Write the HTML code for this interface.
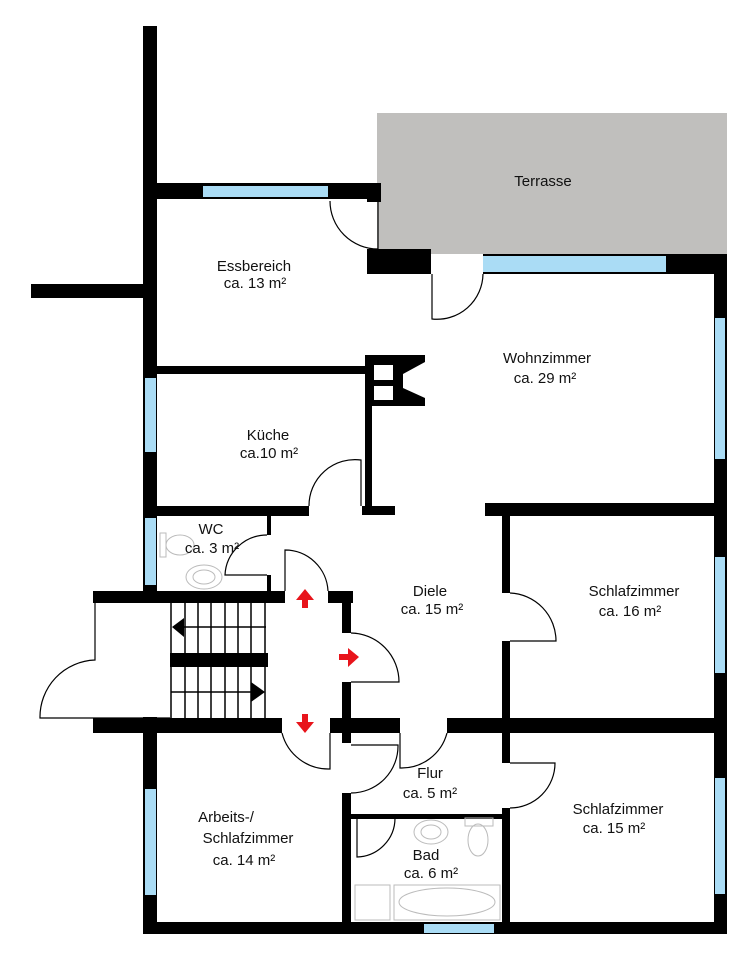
<!DOCTYPE html>
<html><head><meta charset="utf-8"><style>
html,body{margin:0;padding:0;background:#fff;}
svg{display:block;}
text{font-family:"Liberation Sans",sans-serif;font-size:15px;fill:#111;text-anchor:middle;}
</style></head><body>
<svg width="753" height="960" viewBox="0 0 753 960" xmlns="http://www.w3.org/2000/svg">
<rect x="0" y="0" width="753" height="960" fill="#fff"/>
<rect x="377" y="113" width="350" height="141" fill="#c0bfbd"/>
<text x="543" y="186">Terrasse</text>
<g fill="#000">
<rect x="143" y="26" width="14" height="577"/>
<rect x="143" y="717" width="14" height="217"/>
<rect x="31" y="284" width="112" height="14"/>
<rect x="157" y="183" width="224" height="16"/>
<rect x="367" y="199" width="14" height="3"/>
<rect x="367" y="249" width="64" height="25"/>
<rect x="483" y="254" width="244" height="20"/>
<rect x="714" y="254" width="13" height="680"/>
<rect x="157" y="366" width="210" height="8"/>
<path d="M365,355 H425 V362 L403,374 V388 L425,398 V406 H372 V506 H395 V515 H362 V506 H365 Z"/>
<rect x="157" y="506" width="152" height="10"/>
<rect x="485" y="503" width="242" height="13"/>
<rect x="502" y="516" width="8" height="77"/>
<rect x="502" y="641" width="8" height="92"/>
<rect x="502" y="733" width="8" height="30"/>
<rect x="502" y="808" width="8" height="126"/>
<rect x="93" y="718" width="189" height="15"/>
<rect x="330" y="718" width="70" height="15"/>
<rect x="447" y="718" width="280" height="15"/>
<rect x="93" y="591" width="192" height="12"/>
<rect x="328" y="591" width="25" height="12"/>
<rect x="342" y="603" width="9" height="30"/>
<rect x="342" y="682" width="9" height="61"/>
<rect x="342" y="793" width="9" height="130"/>
<rect x="267" y="516" width="4" height="19"/>
<rect x="267" y="575" width="4" height="16"/>
<rect x="351" y="814" width="151" height="5"/>
<rect x="143" y="922" width="584" height="12"/>
<rect x="170" y="653" width="98" height="14"/>
<polygon points="172,627 184,618 184,637"/>
<polygon points="265,692 251,682 251,702"/>
</g>
<rect x="374" y="365" width="19" height="15" fill="#fff"/>
<rect x="374" y="386" width="19" height="14" fill="#fff"/>
<g fill="#aadcf5">
<rect x="203" y="186" width="125" height="11"/>
<rect x="483" y="256" width="183" height="16"/>
<rect x="715" y="318" width="10" height="141"/>
<rect x="715" y="557" width="10" height="116"/>
<rect x="715" y="778" width="10" height="116"/>
<rect x="145" y="378" width="11" height="74"/>
<rect x="145" y="518" width="11" height="67"/>
<rect x="145" y="789" width="11" height="106"/>
<rect x="424" y="924" width="70" height="9"/>
</g>
<g fill="none" stroke="#000" stroke-width="1.2">
<path d="M378,201 V249 A48,48 0 0 1 330,201"/>
<path d="M432,274 V319 A46,46 0 0 0 483,274"/>
<path d="M361,506 V460 A46,46 0 0 0 309,506"/>
<path d="M510,641 H556 A48,48 0 0 0 510,593"/>
<path d="M267,575 H225 A42,42 0 0 1 267,535"/>
<path d="M285,591 V550 A43,43 0 0 1 328,591"/>
<path d="M351,682 H399 A49,49 0 0 0 351,633"/>
<path d="M330,733 V769 A48,48 0 0 1 282,733"/>
<path d="M400,733 V768 A47,47 0 0 0 447,733"/>
<path d="M351,745 H398 A47,47 0 0 1 351,793"/>
<path d="M510,763 H555 A45,45 0 0 1 510,808"/>
<path d="M357,818 V857 A39,39 0 0 0 395,818"/>
<path d="M95,603 V660 A57,57 0 0 0 40,718 H170"/>
</g>
<g stroke="#000" stroke-width="1.5">
<line x1="171" y1="603" x2="171" y2="718"/><line x1="185" y1="603" x2="185" y2="718"/>
<line x1="198" y1="603" x2="198" y2="718"/><line x1="211" y1="603" x2="211" y2="718"/>
<line x1="225" y1="603" x2="225" y2="718"/><line x1="238" y1="603" x2="238" y2="718"/>
<line x1="251" y1="603" x2="251" y2="718"/><line x1="265" y1="603" x2="265" y2="718"/>
<line x1="174" y1="627" x2="266" y2="627"/><line x1="171" y1="692" x2="260" y2="692"/>
</g>
<g fill="#e8141b">
<polygon points="305,589 296,600 302,600 302,608 308,608 308,600 314,600"/>
<polygon points="359,657 348,648 348,654 339,654 339,660 348,660 348,667"/>
<polygon points="305,733 296,722 302,722 302,714 308,714 308,722 314,722"/>
</g>
<g fill="none" stroke="#bbb" stroke-width="1">
<ellipse cx="180" cy="545" rx="14" ry="10"/><rect x="160" y="533" width="6" height="24"/>
<ellipse cx="204" cy="577" rx="18" ry="12"/><ellipse cx="204" cy="577" rx="11" ry="7"/>
<ellipse cx="431" cy="832" rx="17" ry="12"/><ellipse cx="431" cy="832" rx="10" ry="7"/>
<rect x="465" y="818" width="28" height="8"/><ellipse cx="478" cy="840" rx="10" ry="16"/>
<rect x="355" y="885" width="35" height="35"/>
<rect x="394" y="885" width="106" height="35"/><ellipse cx="447" cy="902" rx="48" ry="14"/>
</g>
<text x="254" y="271">Essbereich</text><text x="255" y="288">ca. 13 m²</text>
<text x="547" y="363">Wohnzimmer</text><text x="545" y="383">ca. 29 m²</text>
<text x="268" y="440">Küche</text><text x="269" y="458">ca.10 m²</text>
<text x="211" y="534">WC</text><text x="212" y="553">ca. 3 m²</text>
<text x="430" y="596">Diele</text><text x="432" y="614">ca. 15 m²</text>
<text x="634" y="596">Schlafzimmer</text><text x="630" y="616">ca. 16 m²</text>
<text x="430" y="778">Flur</text><text x="430" y="798">ca. 5 m²</text>
<text x="618" y="814">Schlafzimmer</text><text x="614" y="833">ca. 15 m²</text>
<text x="226" y="822">Arbeits-/</text><text x="248" y="843">Schlafzimmer</text><text x="244" y="865">ca. 14 m²</text>
<text x="426" y="860">Bad</text><text x="431" y="878">ca. 6 m²</text>
</svg>
</body></html>
